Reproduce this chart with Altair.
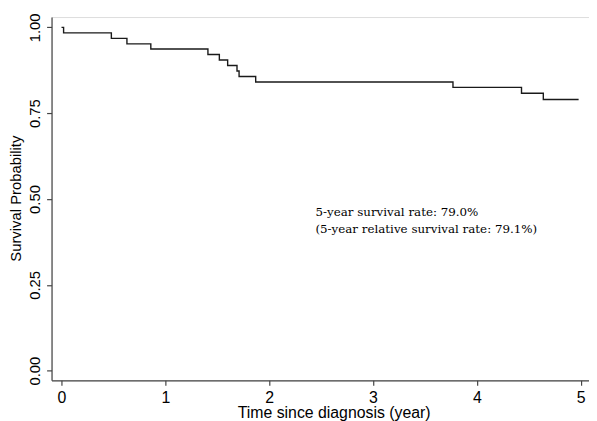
import altair as alt
import pandas as pd

# Kaplan-Meier estimate
times = [0.0, 0.02, 0.48, 0.63, 0.86, 1.41, 1.52, 1.60, 1.69, 1.71, 1.87, 3.77, 4.43, 4.64, 4.98]
surv = [1.000, 0.984, 0.968, 0.952, 0.937, 0.921, 0.905, 0.889, 0.873, 0.857, 0.841, 0.825, 0.808, 0.790, 0.790]

x_ticks = [0, 1, 2, 3, 4, 5]
y_ticks = [0.0, 0.25, 0.5, 0.75, 1.0]

notes = ["5-year survival rate: 79.0%", "(5-year relative survival rate: 79.1%)"]
note_x = [2.445, 2.445]
note_y = [0.462, 0.412]

km = pd.DataFrame({"t": times, "s": surv})
ann = pd.DataFrame({"t": note_x, "s": note_y, "label": notes})

xscale = alt.Scale(domain=[-0.096, 5.08], nice=False, zero=False)
yscale = alt.Scale(domain=[-0.028, 1.030], nice=False, zero=False)

line = alt.Chart(km).mark_line(interpolate="step-after", color="#1a1a1a", strokeWidth=1.4).encode(
    x=alt.X("t:Q", scale=xscale,
            axis=alt.Axis(values=x_ticks, format="d", title="Time since diagnosis (year)",
                          grid=False, labelFontSize=16, labelFont="Liberation Sans",
                          labelColor="black", labelPadding=4, tickSize=5,
                          titleFont="Liberation Sans", titleFontSize=16, titleFontWeight="normal",
                          titleColor="black", titleX=285, titleY=33, titleBaseline="middle",
                          titleAlign="center", domainColor="#444", tickColor="#444",
                          domainWidth=1.2, tickWidth=1.2)),
    y=alt.Y("s:Q", scale=yscale,
            axis=alt.Axis(values=y_ticks, format=".2f", title="Survival Probability",
                          grid=False, labelFontSize=15, labelFont="Liberation Sans",
                          labelColor="black", labelAngle=270, labelAlign="center",
                          labelBaseline="bottom", labelPadding=4, tickSize=5,
                          titleFont="Liberation Sans", titleFontSize=15, titleFontWeight="normal",
                          titleColor="black", titleAngle=270, titleX=-36, titleY=183,
                          titleAlign="center", titleBaseline="middle",
                          domainColor="#444", tickColor="#444", domainWidth=1.2, tickWidth=1.2)),
)

text = alt.Chart(ann).mark_text(align="left", baseline="middle", font="DejaVu Serif",
                                fontSize=12, color="black").encode(
    x=alt.X("t:Q", scale=xscale),
    y=alt.Y("s:Q", scale=yscale),
    text="label:N",
)

chart = (line + text).properties(
    width=543, height=367,
    autosize=alt.AutoSizeParams(type="none"),
    padding={"left": 44, "top": 7, "right": 0, "bottom": 40},
).configure_view(stroke=None).configure(background="white")

chart.save("out.html", embed_options={"renderer": "svg", "actions": False})
